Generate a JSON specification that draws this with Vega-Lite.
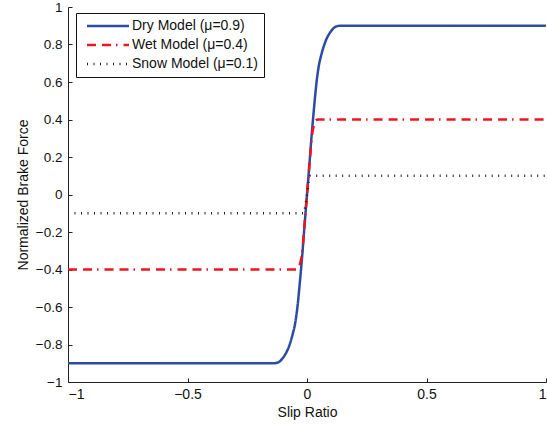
{
  "$schema": "https://vega.github.io/schema/vega-lite/v6.json",
  "width": 478,
  "height": 375,
  "autosize": {"type": "none"},
  "padding": {"left": 68, "top": 7, "right": 1, "bottom": 44},
  "background": "white",
  "config": {
    "view": {"stroke": null},
    "font": "Liberation Sans",
    "axis": {
      "grid": false,
      "domainColor": "#222",
      "tickColor": "#222",
      "labelColor": "#111",
      "titleColor": "#111",
      "labelFont": "Liberation Sans",
      "titleFont": "Liberation Sans",
      "labelFontSize": 14,
      "titleFontSize": 14,
      "titleFontWeight": "normal",
      "tickSize": -4,
      "domainWidth": 1,
      "tickWidth": 1
    }
  },
  "data": {
    "values": [
      {"model": "Dry Model (μ=0.9)", "s": -1, "f": -0.9},
      {"model": "Dry Model (μ=0.9)", "s": -0.14, "f": -0.9},
      {"model": "Dry Model (μ=0.9)", "s": -0.12, "f": -0.895},
      {"model": "Dry Model (μ=0.9)", "s": -0.1, "f": -0.87},
      {"model": "Dry Model (μ=0.9)", "s": -0.08, "f": -0.825},
      {"model": "Dry Model (μ=0.9)", "s": -0.07, "f": -0.79},
      {"model": "Dry Model (μ=0.9)", "s": -0.06, "f": -0.745},
      {"model": "Dry Model (μ=0.9)", "s": -0.05, "f": -0.69},
      {"model": "Dry Model (μ=0.9)", "s": -0.04, "f": -0.6},
      {"model": "Dry Model (μ=0.9)", "s": -0.03, "f": -0.47},
      {"model": "Dry Model (μ=0.9)", "s": -0.02, "f": -0.325},
      {"model": "Dry Model (μ=0.9)", "s": -0.01, "f": -0.16},
      {"model": "Dry Model (μ=0.9)", "s": 0, "f": 0},
      {"model": "Dry Model (μ=0.9)", "s": 0.01, "f": 0.16},
      {"model": "Dry Model (μ=0.9)", "s": 0.02, "f": 0.325},
      {"model": "Dry Model (μ=0.9)", "s": 0.03, "f": 0.47},
      {"model": "Dry Model (μ=0.9)", "s": 0.04, "f": 0.6},
      {"model": "Dry Model (μ=0.9)", "s": 0.05, "f": 0.69},
      {"model": "Dry Model (μ=0.9)", "s": 0.06, "f": 0.745},
      {"model": "Dry Model (μ=0.9)", "s": 0.07, "f": 0.79},
      {"model": "Dry Model (μ=0.9)", "s": 0.08, "f": 0.825},
      {"model": "Dry Model (μ=0.9)", "s": 0.1, "f": 0.87},
      {"model": "Dry Model (μ=0.9)", "s": 0.12, "f": 0.895},
      {"model": "Dry Model (μ=0.9)", "s": 0.14, "f": 0.9},
      {"model": "Dry Model (μ=0.9)", "s": 1, "f": 0.9},
      {"model": "Wet Model (μ=0.4)", "s": -1, "f": -0.4},
      {"model": "Wet Model (μ=0.4)", "s": -0.046, "f": -0.4},
      {"model": "Wet Model (μ=0.4)", "s": -0.038, "f": -0.396},
      {"model": "Wet Model (μ=0.4)", "s": -0.03, "f": -0.375},
      {"model": "Wet Model (μ=0.4)", "s": -0.02, "f": -0.305},
      {"model": "Wet Model (μ=0.4)", "s": -0.01, "f": -0.155},
      {"model": "Wet Model (μ=0.4)", "s": 0, "f": 0},
      {"model": "Wet Model (μ=0.4)", "s": 0.01, "f": 0.155},
      {"model": "Wet Model (μ=0.4)", "s": 0.02, "f": 0.305},
      {"model": "Wet Model (μ=0.4)", "s": 0.03, "f": 0.375},
      {"model": "Wet Model (μ=0.4)", "s": 0.038, "f": 0.396},
      {"model": "Wet Model (μ=0.4)", "s": 0.046, "f": 0.4},
      {"model": "Wet Model (μ=0.4)", "s": 1, "f": 0.4},
      {"model": "Snow Model (μ=0.1)", "s": -1, "f": -0.1},
      {"model": "Snow Model (μ=0.1)", "s": -0.015, "f": -0.1},
      {"model": "Snow Model (μ=0.1)", "s": 0.015, "f": 0.1},
      {"model": "Snow Model (μ=0.1)", "s": 1, "f": 0.1}
    ]
  },
  "mark": {"type": "line", "interpolate": "monotone", "clip": true},
  "encoding": {
    "x": {
      "field": "s", "type": "quantitative", "title": "Slip Ratio",
      "scale": {"domain": [-1, 1], "nice": false, "zero": false},
      "axis": {"values": [-1, -0.5, 0, 0.5, 1], "format": ".1~f", "labelPadding": 9, "titlePadding": 4}
    },
    "y": {
      "field": "f", "type": "quantitative", "title": "Normalized Brake Force",
      "scale": {"domain": [-1, 1], "nice": false, "zero": false},
      "axis": {"values": [-1, -0.8, -0.6, -0.4, -0.2, 0, 0.2, 0.4, 0.6, 0.8, 1], "format": ".1~f", "labelFontSize": 13.5, "labelPadding": 10, "titlePadding": 5}
    },
    "color": {
      "field": "model", "type": "nominal", "title": null,
      "scale": {"domain": ["Dry Model (μ=0.9)", "Wet Model (μ=0.4)", "Snow Model (μ=0.1)"], "range": ["#2c4ca3", "#f0141e", "#222222"]},
      "legend": {
        "orient": "none", "legendX": 8, "legendY": 6,
        "symbolType": "M-4.2,0H4.2", "symbolSize": 100, "symbolOffset": 19,
        "labelFontSize": 14, "labelColor": "#111", "labelFont": "Liberation Sans",
        "fillColor": "white", "strokeColor": "#111", "padding": 6, "rowPadding": 5,
        "labelOffset": 17, "labelLimit": 300
      }
    },
    "strokeDash": {
      "field": "model", "type": "nominal", "title": null,
      "scale": {"domain": ["Dry Model (μ=0.9)", "Wet Model (μ=0.4)", "Snow Model (μ=0.1)"], "range": [[1, 0], [9, 6, 9, 5, 1.5, 6], [1, 5.5]]}
    },
    "strokeWidth": {
      "field": "model", "type": "nominal", "title": null,
      "scale": {"domain": ["Dry Model (μ=0.9)", "Wet Model (μ=0.4)", "Snow Model (μ=0.1)"], "range": [2.5, 2.5, 1]}
    }
  }
}
